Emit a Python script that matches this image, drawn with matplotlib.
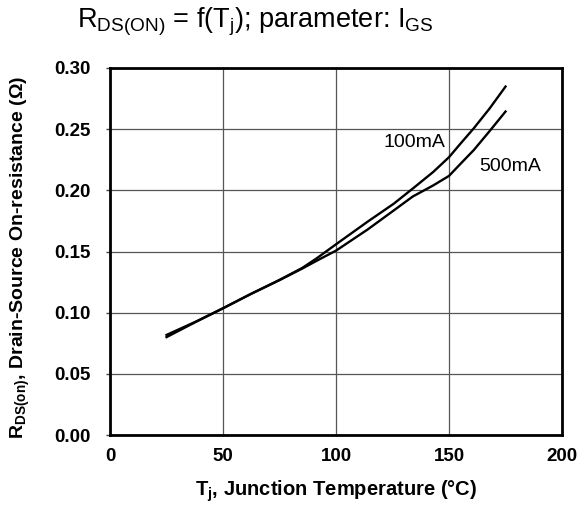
import matplotlib
matplotlib.use("Agg")
import matplotlib.pyplot as plt

plt.rcParams["font.family"] = ["Liberation Sans", "DejaVu Sans"]
plt.rcParams["mathtext.fontset"] = "custom"
plt.rcParams["mathtext.rm"] = "Liberation Sans"
plt.rcParams["mathtext.bf"] = "Liberation Sans:bold"

# junction temperature (degC) and on-resistance (ohm)
tj = [25, 38, 50, 62, 75, 85, 91.5, 100, 114, 125.5, 134, 143, 150, 155, 161, 168, 175]
r_100ma = [0.0818, 0.0927, 0.1036, 0.1150, 0.1268, 0.1365, 0.1445, 0.1559, 0.1744,
           0.1890, 0.2015, 0.2150, 0.2271, 0.2380, 0.2508, 0.2670, 0.2848]
r_500ma = [0.0800, 0.0925, 0.1036, 0.1150, 0.1266, 0.1360, 0.1425, 0.1507, 0.1680,
           0.1835, 0.1950, 0.2040, 0.2118, 0.2215, 0.2330, 0.2485, 0.2644]

x_ticks = [0, 50, 100, 150, 200]
y_ticks = [0.00, 0.05, 0.10, 0.15, 0.20, 0.25, 0.30]

fig = plt.figure(figsize=(5.8, 5.15), dpi=100)
ax = fig.add_axes([0.1897, 0.1553, 0.7793, 0.7127])

ax.plot(tj, r_100ma, color="black", lw=1.7)
ax.plot(tj, r_500ma, color="black", lw=1.7)

ax.text(134.5, 0.2388, "100mA", fontsize=14, ha="center", va="center")
ax.text(177, 0.2195, "500mA", fontsize=14, ha="center", va="center")

ax.set_xlim(0, 200)
ax.set_ylim(0, 0.30)
ax.set_xticks(x_ticks)
ax.set_yticks(y_ticks)
ax.set_xticklabels([str(v) for v in x_ticks], fontweight="bold", fontsize=13.5)
ax.set_yticklabels([f"{v:.2f}" for v in y_ticks], fontweight="bold", fontsize=13.5)
ax.tick_params(axis="x", length=0, pad=9)
ax.tick_params(axis="y", length=3, width=1, pad=11, color="#444444")
ax.grid(True, color="#555555", lw=0.9)
for sp in ax.spines.values():
    sp.set_linewidth(2)

ax.set_xlabel(r"T$_\mathbf{j}$, Junction Temperature (°C)", fontweight="bold",
              fontsize=14.5)
ax.xaxis.set_label_coords(0.5, -0.118)
ax.set_ylabel(r"R$_\mathbf{DS(on)}$, Drain-Source On-resistance (Ω)",
              fontweight="bold", fontsize=14)
ax.yaxis.set_label_coords(-0.173, 0.485)

fig.text(0.44, 0.957, r"R$_\mathrm{DS(ON)}$ = f(T$_\mathrm{j}$); parameter: I$_\mathrm{GS}$",
         fontsize=19.5, ha="center", va="center")

fig.savefig("out.png", dpi=100)
